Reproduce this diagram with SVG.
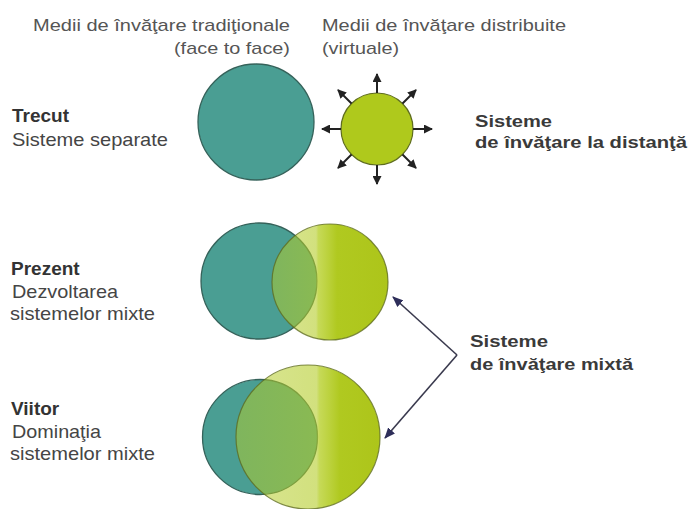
<svg xmlns="http://www.w3.org/2000/svg" width="690" height="509" viewBox="0 0 690 509">
  <style>
    .reg { font-family: "Liberation Sans", Arial, sans-serif; fill: #454545; }
    .hdr { font-family: "Liberation Sans", Arial, sans-serif; fill: #555555; font-size: 17px; }
    .lbl { font-size: 18.6px; }
    .bld { font-family: "Liberation Sans", Arial, sans-serif; font-weight: bold; fill: #333333; font-size: 19px; }
    .bldr { font-family: "Liberation Sans", Arial, sans-serif; font-weight: bold; fill: #3a3a3a; font-size: 16px; }
    .teal { fill: #4a9e93; stroke: #35625a; stroke-width: 1.3; }
    .sun { fill: #afc91c; stroke: #5f6d1e; stroke-width: 1.2; }
    .ray { stroke: #222222; stroke-width: 2; fill: none; }
    .link { stroke: #3a3a4e; stroke-width: 1.6; fill: none; }
  </style>
  <defs>
    <marker id="ah" markerWidth="9" markerHeight="9" refX="8" refY="4.5" orient="auto" markerUnits="userSpaceOnUse">
      <path d="M0,0 L9,4.5 L0,9 Z" fill="#222222"/>
    </marker>
    <marker id="ah2" markerWidth="11" markerHeight="9" refX="10" refY="4.5" orient="auto" markerUnits="userSpaceOnUse">
      <path d="M0,0 L11,4.5 L0,9 Z" fill="#2e2e5a"/>
    </marker>
    <linearGradient id="gMid" x1="0" y1="0" x2="1" y2="0">
      <stop offset="0" stop-color="#b4cc28" stop-opacity="0.5"/>
      <stop offset="0.38" stop-color="#b4cc28" stop-opacity="0.6"/>
      <stop offset="0.40" stop-color="#bcd33a" stop-opacity="0.85"/>
      <stop offset="0.56" stop-color="#b0c920" stop-opacity="1"/>
      <stop offset="1" stop-color="#adc51a" stop-opacity="1"/>
    </linearGradient>
    <linearGradient id="gFut" x1="0" y1="0" x2="1" y2="0">
      <stop offset="0" stop-color="#b4cc28" stop-opacity="0.5"/>
      <stop offset="0.56" stop-color="#b4cc28" stop-opacity="0.6"/>
      <stop offset="0.58" stop-color="#bcd33a" stop-opacity="0.85"/>
      <stop offset="0.72" stop-color="#b0c920" stop-opacity="1"/>
      <stop offset="1" stop-color="#adc51a" stop-opacity="1"/>
    </linearGradient>
  </defs>

  <g id="header-traditional">
    <text class="hdr" x="33" y="31" textLength="257" lengthAdjust="spacingAndGlyphs">Medii de învăţare tradiţionale</text>
    <text class="hdr" x="174" y="54" textLength="116" lengthAdjust="spacingAndGlyphs">(face to face)</text>
  </g>
  <g id="header-distributed">
    <text class="hdr" x="322" y="31" textLength="244" lengthAdjust="spacingAndGlyphs">Medii de învăţare distribuite</text>
    <text class="hdr" x="322" y="54" textLength="77" lengthAdjust="spacingAndGlyphs">(virtuale)</text>
  </g>

  <g id="label-past">
    <text class="bld" x="12" y="122">Trecut</text>
    <text class="reg lbl" x="12" y="146" textLength="156" lengthAdjust="spacingAndGlyphs">Sisteme separate</text>
  </g>
  <g id="label-present">
    <text class="bld" x="11" y="275">Prezent</text>
    <text class="reg lbl" x="12" y="298" textLength="106" lengthAdjust="spacingAndGlyphs">Dezvoltarea</text>
    <text class="reg lbl" x="10" y="320" textLength="145" lengthAdjust="spacingAndGlyphs">sistemelor mixte</text>
  </g>
  <g id="label-future">
    <text class="bld" x="11" y="415">Viitor</text>
    <text class="reg lbl" x="12" y="438" textLength="89" lengthAdjust="spacingAndGlyphs">Dominaţia</text>
    <text class="reg lbl" x="10" y="460" textLength="145" lengthAdjust="spacingAndGlyphs">sistemelor mixte</text>
  </g>

  <g id="past-traditional">
    <circle class="teal" cx="256" cy="122" r="58"/>
  </g>
  <g id="past-distributed">
    <circle class="sun" cx="377" cy="129" r="36"/>
  </g>

  <g id="present-circles">
    <circle class="teal" cx="259" cy="281" r="58"/>
    <circle cx="330" cy="282" r="58" fill="url(#gMid)" stroke="#5f6d1e" stroke-width="1.2" stroke-opacity="0.8"/>
  </g>
  <g id="future-circles">
    <circle class="teal" cx="260" cy="437" r="57.5"/>
    <circle cx="308" cy="437" r="72" fill="url(#gFut)" stroke="#5f6d1e" stroke-width="1.2" stroke-opacity="0.8"/>
  </g>

  <g id="label-distance">
    <text class="bldr" x="475" y="127" textLength="77" lengthAdjust="spacingAndGlyphs">Sisteme</text>
    <text class="bldr" x="475" y="148" textLength="212" lengthAdjust="spacingAndGlyphs">de învăţare la distanţă</text>
  </g>
  <g id="label-mixed">
    <text class="bldr" x="470" y="347" textLength="78" lengthAdjust="spacingAndGlyphs">Sisteme</text>
    <text class="bldr" x="470" y="370" textLength="163" lengthAdjust="spacingAndGlyphs">de învăţare mixtă</text>
  </g>

  <g id="connectors">
    <line class="ray" x1="377" y1="93" x2="377" y2="74" marker-end="url(#ah)"/>
    <line class="ray" x1="377" y1="165" x2="377" y2="184" marker-end="url(#ah)"/>
    <line class="ray" x1="413" y1="129" x2="432" y2="129" marker-end="url(#ah)"/>
    <line class="ray" x1="341" y1="129" x2="322" y2="129" marker-end="url(#ah)"/>
    <line class="ray" x1="402.5" y1="103.5" x2="416" y2="90" marker-end="url(#ah)"/>
    <line class="ray" x1="351.5" y1="103.5" x2="338" y2="90" marker-end="url(#ah)"/>
    <line class="ray" x1="402.5" y1="154.5" x2="416" y2="168" marker-end="url(#ah)"/>
    <line class="ray" x1="351.5" y1="154.5" x2="338" y2="168" marker-end="url(#ah)"/>
    <line class="link" x1="457" y1="355" x2="393" y2="297" marker-end="url(#ah2)"/>
    <line class="link" x1="457" y1="355" x2="385" y2="438" marker-end="url(#ah2)"/>
  </g>
</svg>
